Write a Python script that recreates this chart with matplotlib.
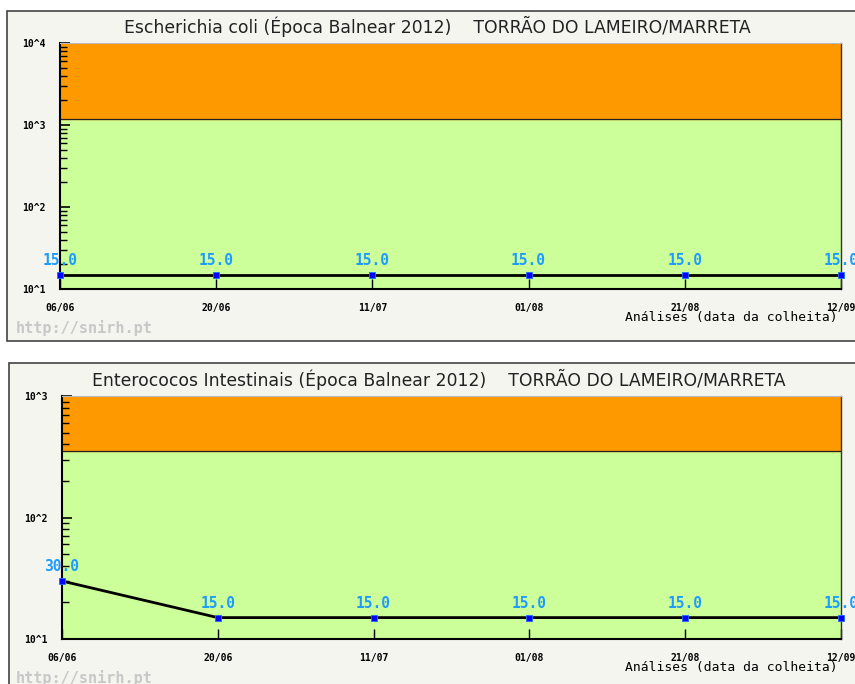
import numpy as np
import matplotlib
matplotlib.use('Agg')
import matplotlib.pyplot as plt
from matplotlib.patches import Rectangle
from matplotlib.ticker import LogLocator, FuncFormatter, NullFormatter

# datas de colheita (época balnear 2012)
datas = ['06/06', '20/06', '11/07', '01/08', '21/08', '12/09']
ecoli = [15.0, 15.0, 15.0, 15.0, 15.0, 15.0]
enterococos = [30.0, 15.0, 15.0, 15.0, 15.0, 15.0]

# limites (zona laranja acima)
lim_ecoli = 1175
lim_entero = 350

ymax_ecoli = 1e4
ymax_entero = 1e3

W, H = 855, 684
fig = plt.figure(figsize=(W / 100, H / 100), dpi=100)
fig.patch.set_facecolor('white')

mono = 'DejaVu Sans Mono'
cor_label = '#1e9bff'


def px(x0, y0, x1, y1):
    # caixa em pixeis -> fracções da figura
    return [x0 / W, 1 - y1 / H, (x1 - x0) / W, (y1 - y0) / H]


def moldura(x0, y0, x1, y1):
    r = Rectangle((x0 / W, 1 - y1 / H), (x1 - x0) / W, (y1 - y0) / H,
                  transform=fig.transFigure, facecolor='#f5f5f0',
                  edgecolor='#444444', linewidth=1.2, zorder=-5)
    fig.patches.append(r)


def grafico(caixa, valores, limite, ymax, titulo, tx, ty, base_y):
    ax = fig.add_axes(caixa)
    ax.set_zorder(3)
    x = np.arange(len(datas))
    ax.set_yscale('log')
    ax.set_xlim(0, len(datas) - 1)
    ax.set_ylim(10, ymax)
    ax.axhspan(10, limite, color='#ccff99', zorder=0)
    ax.axhspan(limite, ymax, color='#ff9900', zorder=0)
    ax.axhline(limite, color='#222222', lw=0.9, zorder=1)

    ax.plot(x, valores, color='black', lw=2.0, zorder=3, clip_on=False)
    ax.plot(x, valores, 's', color='#0000ff', markersize=4.5,
            markeredgecolor='#1e6bff', markeredgewidth=0.6, zorder=4, clip_on=False)
    for xi, v in zip(x, valores):
        ax.annotate('%.1f' % v, (xi, v), xytext=(0, 5), textcoords='offset points',
                    ha='center', va='bottom', family=mono, fontweight='bold',
                    fontsize=10.5, color=cor_label, annotation_clip=False, zorder=5)

    ax.yaxis.set_major_locator(LogLocator(base=10, numticks=10))
    ax.yaxis.set_major_formatter(FuncFormatter(lambda v, p: '10^%d' % round(np.log10(v))))
    ax.yaxis.set_minor_locator(LogLocator(base=10, subs=np.arange(2, 10), numticks=20))
    ax.yaxis.set_minor_formatter(NullFormatter())
    ax.tick_params(axis='y', which='major', direction='in', length=7, width=1.2,
                   pad=10, labelsize=7)
    ax.tick_params(axis='y', which='minor', direction='in', length=5, width=1.0)
    for t in ax.get_yticklabels():
        t.set_family(mono)
        t.set_fontweight('bold')

    ax.set_xticks(x)
    ax.set_xticklabels(datas, family=mono, fontweight='bold', fontsize=7)
    ax.tick_params(axis='x', direction='in', length=7, width=1.0, pad=10)

    ax.spines['left'].set_color('black')
    ax.spines['left'].set_linewidth(1.5)
    ax.spines['bottom'].set_color('black')
    ax.spines['bottom'].set_linewidth(1.5)
    ax.spines['top'].set_color('#bbbbbb')
    ax.spines['top'].set_linewidth(0.8)
    ax.spines['right'].set_color('#333333')
    ax.spines['right'].set_linewidth(1.0)

    fig.text(tx / W, 1 - ty / H, titulo, ha='center', va='center',
             fontsize=12.4, color='#222222')
    fig.text(838 / W, 1 - (base_y + 28) / H, 'Análises (data da colheita)',
             ha='right', va='center', family=mono, fontsize=9.4, color='black')
    fig.text(16 / W, 1 - (base_y + 39) / H, 'http://snirh.pt', ha='left', va='center',
             family=mono, fontweight='bold', fontsize=11, color='#c8c8c8')
    return ax


moldura(7, 11, 870, 341)
moldura(9, 363, 870, 700)

grafico(px(60, 43, 841, 289), ecoli, lim_ecoli, ymax_ecoli,
        'Escherichia coli (Época Balnear 2012)    TORRÃO DO LAMEIRO/MARRETA',
        437, 26, 289)
grafico(px(62, 396, 841, 639), enterococos, lim_entero, ymax_entero,
        'Enterococos Intestinais (Época Balnear 2012)    TORRÃO DO LAMEIRO/MARRETA',
        439, 379, 639)

fig.savefig('out.png', dpi=100, facecolor=fig.get_facecolor())
